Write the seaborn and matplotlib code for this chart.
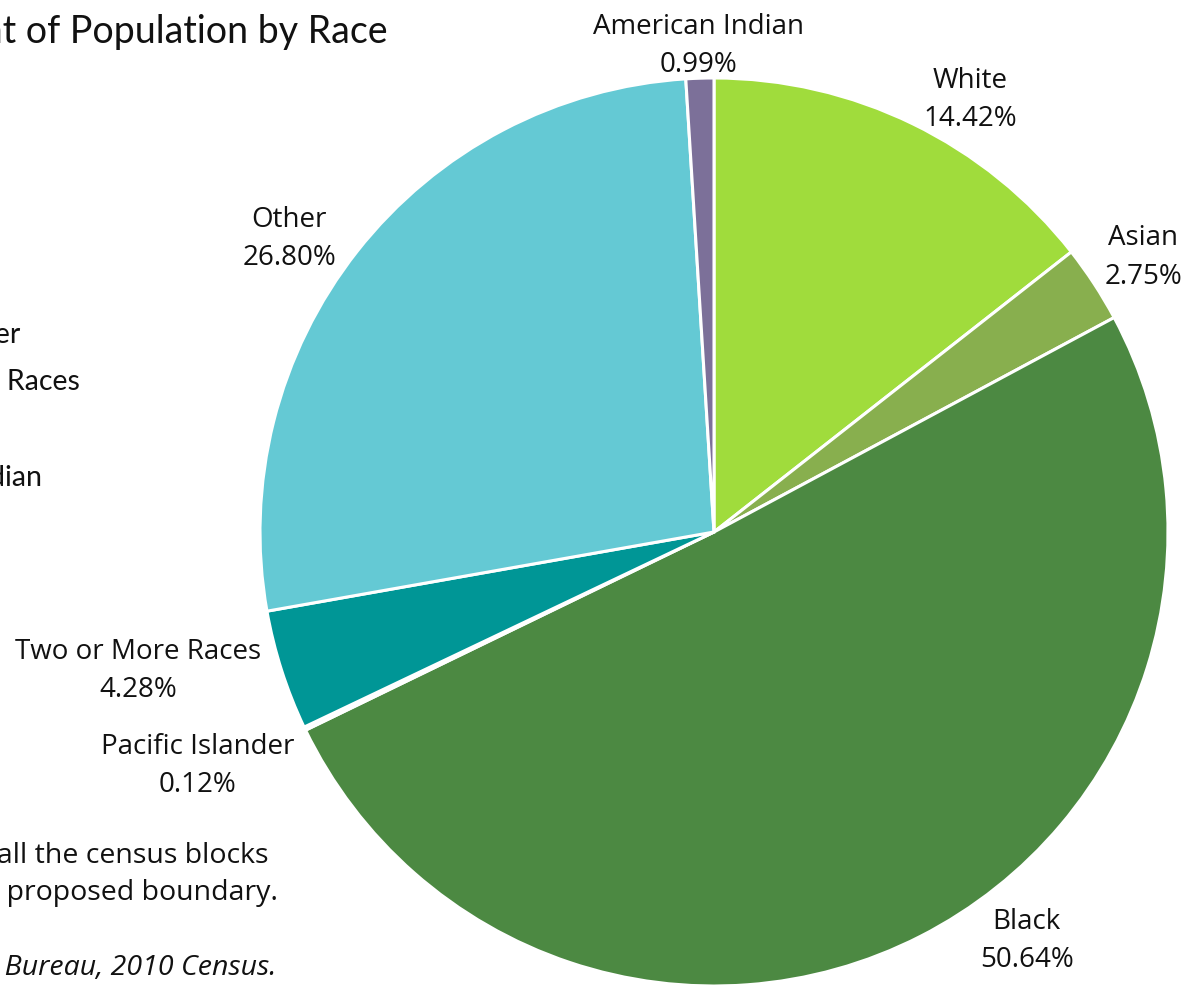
import matplotlib
matplotlib.use("Agg")
import matplotlib.pyplot as plt
import seaborn as sns

# Share of population by race (percent)
races = ["White", "Asian", "Black", "Pacific Islander",
         "Two or More Races", "Other", "American Indian"]
shares = [14.42, 2.75, 50.64, 0.12, 4.28, 26.80, 0.99]
colors = ["#A0DC3C", "#88AF4E", "#4C8942", "#F4F8F8",
          "#009696", "#64C9D4", "#7C7099"]

# Label anchor points in pie units (radius = 1)
label_xy = {
    "White": (0.564, 0.951),
    "Asian": (0.945, 0.605),
    "Black": (0.689, -0.901),
    "Pacific Islander": (-1.137, -0.515),
    "Two or More Races": (-1.269, -0.306),
    "Other": (-0.936, 0.645),
    "American Indian": (-0.035, 1.071),
}

sns.set_theme(style="white")
plt.rcParams["font.family"] = ["Open Sans", "DejaVu Sans"]

W, H = 1203, 988
fig = plt.figure(figsize=(W / 100, H / 100), dpi=100)
fig.patch.set_facecolor("white")

cx, cy, r = 714, 532, 454
ax = fig.add_axes([(cx - r) / W, (H - cy - r) / H, 2 * r / W, 2 * r / H])
ax.pie(shares, colors=colors, startangle=90, counterclock=False, radius=1,
       wedgeprops=dict(edgecolor="white", linewidth=2.2))
ax.set_xlim(-1, 1)
ax.set_ylim(-1, 1)
ax.set_aspect("equal")
ax.axis("off")

for name, val in zip(races, shares):
    x, y = label_xy[name]
    ax.text(x, y, f"{name}\n{val:.2f}%", ha="center", va="center",
            fontsize=20, color="#111111", linespacing=1.5)

# Title and side notes (left part runs past the figure edge)
fig.text(388 / W, 1 - 32 / H, "Percent of Population by Race", ha="right",
         va="center", fontsize=27, color="#111111", family=["Lato", "DejaVu Sans"])
for txt, px, py in [("Pacific Islander", 20, 335),
                    ("Two or More Races", 80, 382),
                    ("American Indian", 42, 478)]:
    fig.text(px / W, 1 - py / H, txt, ha="right", va="center",
             fontsize=20.5, color="#111111", family=["Lato", "DejaVu Sans"])

fig.text(268 / W, 1 - 856 / H, "*Population totals include all the census blocks",
         ha="right", va="center", fontsize=20.5, color="#111111")
fig.text(278 / W, 1 - 893 / H, "that fall within the proposed boundary.",
         ha="right", va="center", fontsize=20.5, color="#111111")
fig.text(276 / W, 1 - 968 / H, "Source: U.S. Census Bureau, 2010 Census.",
         ha="right", va="center", fontsize=20.5, color="#111111", style="italic")

fig.savefig("out.png", dpi=100, facecolor="white")
